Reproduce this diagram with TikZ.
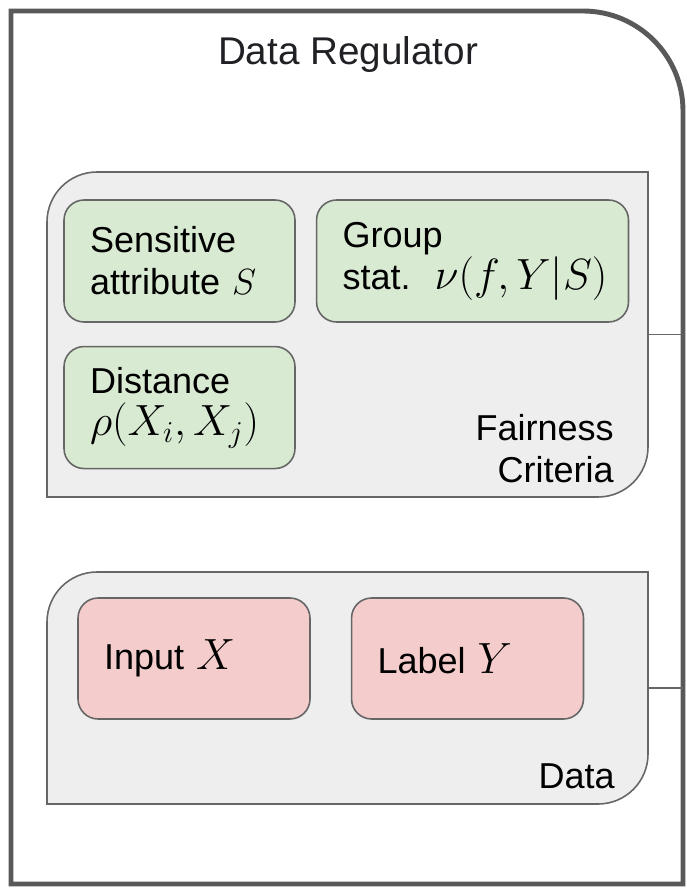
\documentclass[tikz,border=0pt]{standalone}
\usepackage{amsmath}
\usepackage{fontspec}
\setmainfont{Liberation Sans}
\usepackage{xcolor}
\usetikzlibrary{positioning}

\definecolor{framegray}{HTML}{595959}
\definecolor{edgegray}{HTML}{666666}
\definecolor{panelgray}{HTML}{EEEEEE}
\definecolor{critgreen}{HTML}{D9EAD3}
\definecolor{datared}{HTML}{F4CCCC}
\definecolor{titlegray}{HTML}{202124}

\begin{document}
\begin{tikzpicture}[x=0.02cm,y=-0.02cm,font=\fontsize{20.5}{24}\selectfont,
  panel/.style={draw=edgegray,fill=panelgray,line width=0.9pt},
  critbox/.style={rectangle,rounded corners=0.4cm,draw=edgegray,fill=critgreen,
    line width=0.9pt,minimum height=2.44cm,align=left,inner xsep=0.52cm},
  databox/.style={critbox,fill=datared,minimum height=2.42cm,text width=3.6cm}]

\useasboundingbox (0,0) rectangle (686,888);

% regulator frame
\draw[framegray,line width=2.8pt] (11,884) -- (11,11) -- (583,11) arc (270:360:100) -- (683,884) -- cycle;
\node[anchor=base,text=titlegray,font=\fontsize{22}{26}\selectfont] (title) at (348,65) {Data Regulator};

% fairness criteria
\draw[panel] (47,497) -- (47,222) arc (180:270:50) -- (648,172) -- (648,447) arc (0:90:50) -- cycle;
\node[critbox,text width=3.58cm] (sens) at (179.5,261) {Sensitive\\attribute $S$};
\node[critbox,text width=5.2cm,right=0.4cm of sens] (group) {Group\\stat.~\ {\fontsize{24}{24}\selectfont$\nu(f,Y|S)$}};
\node[critbox,text width=3.58cm,below=0.46cm of sens] (dist) {Distance\\{\fontsize{25}{24}\selectfont$\rho(X_i,X_j)$}};
\node[anchor=north east,inner sep=0pt,align=right] (crittext) at (614,414) {Fairness\\Criteria};

% data
\draw[panel] (47,804) -- (47,622) arc (180:270:50) -- (648,572) -- (648,754) arc (0:90:50) -- cycle;
\node[databox] (input) at (194,658.5) {Input\ {\fontsize{23}{24}\selectfont$X$}};
\node[databox,right=0.8cm of input] (label) {Label\ {\fontsize{23}{24}\selectfont$Y$}};
\node[anchor=base east,inner sep=0pt] (datatext) at (615,788) {Data};

% links to the frame
\coordinate (critport) at (648,334.5);
\coordinate (critframe) at (683,334.5);
\coordinate (dataport) at (648,688);
\coordinate (dataframe) at (683,688);
\draw[edgegray,line width=0.9pt] (critport) -- (critframe);
\draw[edgegray,line width=0.9pt] (dataport) -- (dataframe);

\end{tikzpicture}
\end{document}
